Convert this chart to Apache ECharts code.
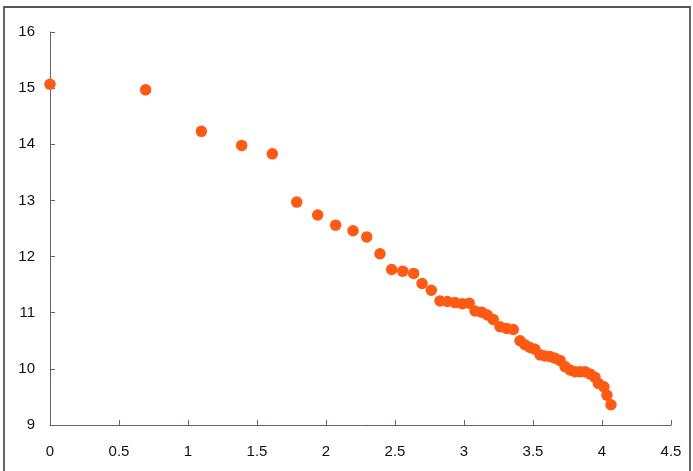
<!DOCTYPE html>
<html>
<head>
<meta charset="utf-8">
<script src="https://cdn.jsdelivr.net/npm/echarts@6/dist/echarts.min.js"></script>
<style>
html,body{margin:0;padding:0;background:#fff;}
#chart{width:693px;height:471px;}
</style>
</head>
<body>
<div id="chart"></div>
<script>
var xValues = [0, 0.693, 1.097, 1.389, 1.611, 1.788, 1.94, 2.07, 2.196, 2.295, 2.391, 2.476, 2.556, 2.635, 2.696, 2.763, 2.826, 2.879, 2.935, 2.988, 3.038, 3.08, 3.128, 3.169, 3.212, 3.261, 3.309, 3.357, 3.406, 3.442, 3.478, 3.514, 3.551, 3.587, 3.623, 3.659, 3.696, 3.732, 3.768, 3.804, 3.841, 3.877, 3.913, 3.949, 3.974, 4.014, 4.036, 4.065];
var yValues = [15.07, 14.97, 14.23, 13.98, 13.83, 12.97, 12.74, 12.56, 12.46, 12.35, 12.05, 11.77, 11.74, 11.70, 11.52, 11.40, 11.21, 11.20, 11.18, 11.16, 11.17, 11.03, 11.01, 10.96, 10.88, 10.75, 10.72, 10.70, 10.50, 10.43, 10.38, 10.35, 10.25, 10.23, 10.22, 10.19, 10.15, 10.04, 9.98, 9.95, 9.95, 9.95, 9.91, 9.85, 9.74, 9.68, 9.53, 9.36];

var points = xValues.map(function (x, i) { return [x, yValues[i]]; });

var chart = echarts.init(document.getElementById('chart'));
var axisColor = '#5c6672';
chart.setOption({
  backgroundColor: '#fff',
  animation: false,
  grid: { left: 50, right: 22, top: 32, bottom: 46, containLabel: false },
  graphic: [{
    type: 'rect',
    shape: { x: 4, y: 7, width: 686, height: 480 },
    style: { fill: 'none', stroke: '#555', lineWidth: 1.8 },
    silent: true
  }],
  xAxis: {
    type: 'value', min: 0, max: 4.5, interval: 0.5,
    axisLine: { show: true, lineStyle: { color: axisColor, width: 1 } },
    axisTick: { show: true, inside: true, length: 5, lineStyle: { color: axisColor } },
    splitLine: { show: false },
    axisLabel: { color: '#111', fontSize: 15, fontFamily: 'Liberation Sans, Arial, sans-serif', margin: 19 }
  },
  yAxis: {
    type: 'value', min: 9, max: 16, interval: 1,
    axisLine: { show: true, lineStyle: { color: axisColor, width: 1 } },
    axisTick: { show: true, inside: true, length: 5, lineStyle: { color: axisColor } },
    splitLine: { show: false },
    axisLabel: { color: '#111', fontSize: 15, fontFamily: 'Liberation Sans, Arial, sans-serif', margin: 15 }
  },
  series: [{
    type: 'scatter',
    data: points,
    symbol: 'circle',
    symbolSize: 11.5,
    itemStyle: { color: '#ff5a14', opacity: 1 }
  }]
});
</script>
</body>
</html>
